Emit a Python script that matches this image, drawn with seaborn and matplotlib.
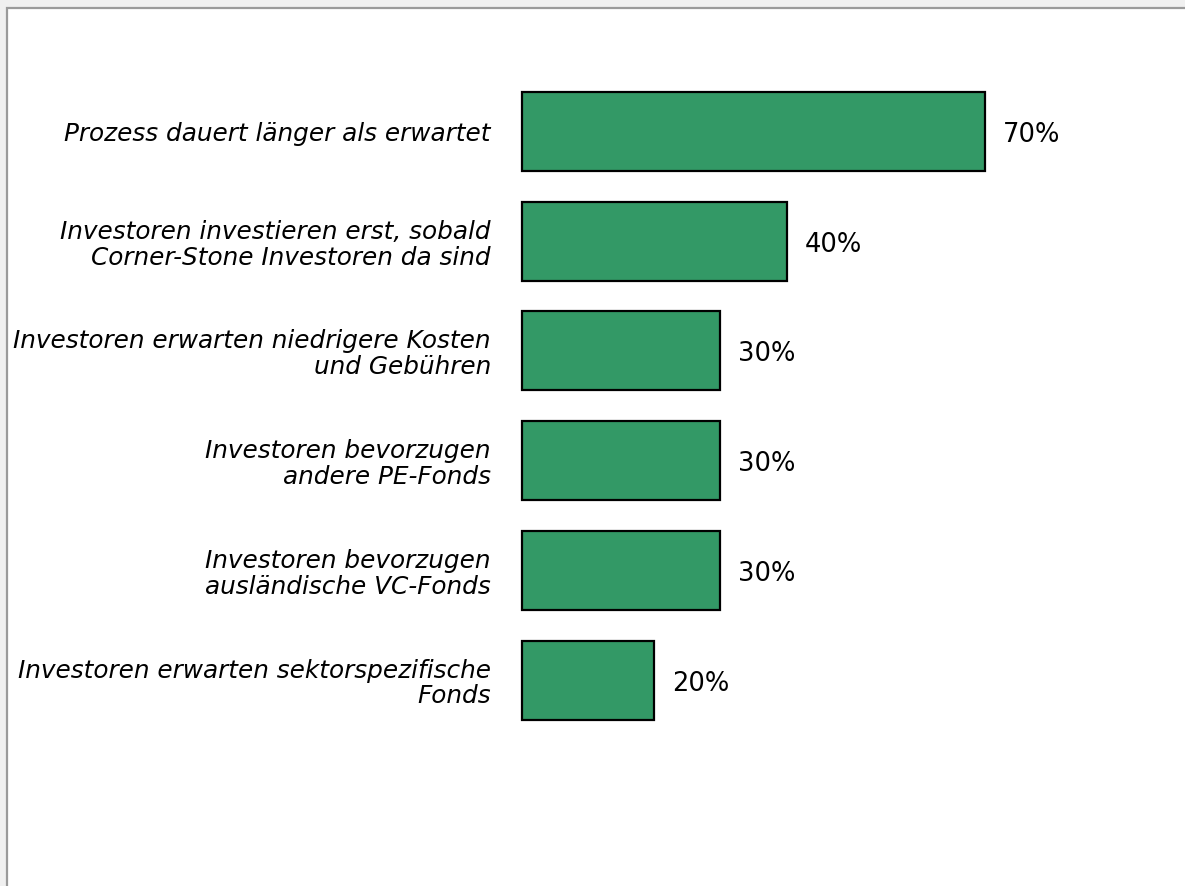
import matplotlib
matplotlib.use("Agg")
import matplotlib.pyplot as plt
from matplotlib.patches import Rectangle
import seaborn as sns
import pandas as pd

categories = [
    "Prozess dauert länger als erwartet",
    "Investoren investieren erst, sobald\nCorner-Stone Investoren da sind",
    "Investoren erwarten niedrigere Kosten\nund Gebühren",
    "Investoren bevorzugen\nandere PE-Fonds",
    "Investoren bevorzugen\nausländische VC-Fonds",
    "Investoren erwarten sektorspezifische\nFonds",
]
values = [70, 40, 30, 30, 30, 20]
value_labels = ["70%", "40%", "30%", "30%", "30%", "20%"]

df = pd.DataFrame({"Grund": categories, "Anteil": values})

sns.set_theme(style="white")
plt.rcParams["font.family"] = ["DejaVu Sans"]

W, H = 1185, 886
fig = plt.figure(figsize=(W / 100, H / 100), dpi=100, facecolor="#f0f0f0")

# white panel with grey frame on the top and left edges
fig.patches.append(Rectangle((7 / W, -0.1), 1.2, (H - 8) / H + 0.1,
                             transform=fig.transFigure, facecolor="white",
                             edgecolor="#9a9a9a", linewidth=1.6, zorder=-10))

ax_top, ax_bot = 76.7, 734.9
ax = fig.add_axes([522 / W, 1 - ax_bot / H, (1182 - 522) / W, (ax_bot - ax_top) / H])
ax.set_facecolor("none")

sns.barplot(data=df, x="Anteil", y="Grund", orient="h", color="#339966",
            saturation=1, width=0.72, edgecolor="black", linewidth=1.6, ax=ax)
for bar in ax.patches:
    bar.set_clip_on(False)

ax.set_xlim(0, 660 / 6.614)
ax.set_ylim(len(categories) - 0.5, -0.5)
for spine in ax.spines.values():
    spine.set_visible(False)
ax.set_xticks([])
ax.set_xlabel("")
ax.set_ylabel("")
ax.tick_params(axis="y", length=0, pad=22.5)
for lbl in ax.get_yticklabels():
    lbl.set_fontstyle("italic")
    lbl.set_fontsize(17.8)
    lbl.set_multialignment("right")
    lbl.set_linespacing(1.1)
    lbl.set_color("black")

for i, (v, t) in enumerate(zip(values, value_labels)):
    ax.annotate(t, xy=(v, i), xytext=(13, -2.5), textcoords="offset points",
                ha="left", va="center", fontsize=18.5, color="black")

fig.savefig("out.png", dpi=100, facecolor=fig.get_facecolor())
